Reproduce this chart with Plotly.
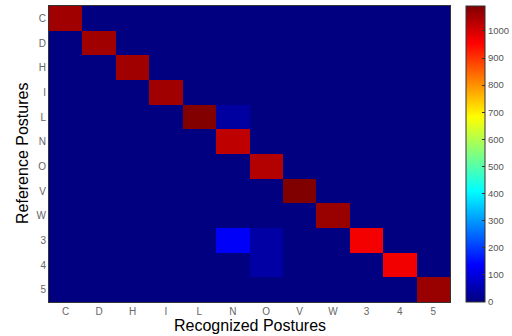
import plotly.graph_objects as go

labels = ["C", "D", "H", "I", "L", "N", "O", "V", "W", "3", "4", "5"]
diagonal = [1057, 1057, 1057, 1057, 1090, 1025, 1037, 1092, 1065, 966, 970, 1065]
# off-diagonal confusions: (reference row, recognized column, count)
off_diag = [("L", "N", 35), ("3", "N", 130), ("3", "O", 40), ("4", "O", 40)]

n = len(labels)
z = [[0] * n for _ in range(n)]
for i in range(n):
    z[i][i] = diagonal[i]
for r, c, v in off_diag:
    z[labels.index(r)][labels.index(c)] = v

jet = [
    [0.0, "rgb(0,0,128)"],
    [0.125, "rgb(0,0,255)"],
    [0.375, "rgb(0,255,255)"],
    [0.625, "rgb(255,255,0)"],
    [0.875, "rgb(255,0,0)"],
    [1.0, "rgb(128,0,0)"],
]

fig = go.Figure(go.Heatmap(
    z=z, x=labels, y=labels, colorscale=jet, zmin=0, zmax=max(diagonal),
    colorbar=dict(
        xref="container", x=466 / 512, xanchor="left", xpad=0, ypad=0,
        yref="paper", y=0.5, yanchor="middle",
        len=1, lenmode="fraction", thickness=19, thicknessmode="pixels",
        tickvals=list(range(0, 1001, 100)), ticks="inside", ticklen=3,
        tickcolor="#333", outlinecolor="#333", outlinewidth=1,
        tickfont=dict(family="Arial, Liberation Sans", size=9.5, color="#555"),
    ),
))

fig.update_layout(
    width=512, height=336,
    margin=dict(l=49, r=62, t=6, b=34, autoexpand=False),
    paper_bgcolor="white", plot_bgcolor="white",
    font=dict(family="Arial, Liberation Sans", color="#444"),
    annotations=[
        dict(text="Recognized Postures", xref="paper", yref="paper", x=0.5, y=-23 / 296,
             yanchor="middle", xanchor="center", showarrow=False,
             font=dict(size=16, color="black")),
        dict(text="Reference Postures", xref="paper", yref="paper", x=-27 / 401, y=0.5,
             xanchor="center", yanchor="middle", textangle=-90, showarrow=False,
             font=dict(size=16, color="black")),
    ],
)
fig.update_xaxes(
    tickfont=dict(size=10, color="#666"), ticks="", showline=True, linecolor="#333",
    mirror=True, linewidth=1,
)
fig.update_yaxes(
    tickfont=dict(size=10, color="#666"), ticks="", autorange="reversed",
    showline=True, linecolor="#333", mirror=True, linewidth=1,
)

fig.write_html("out.html", config={"displayModeBar": False},
               post_script="document.body.style.margin='0';")
